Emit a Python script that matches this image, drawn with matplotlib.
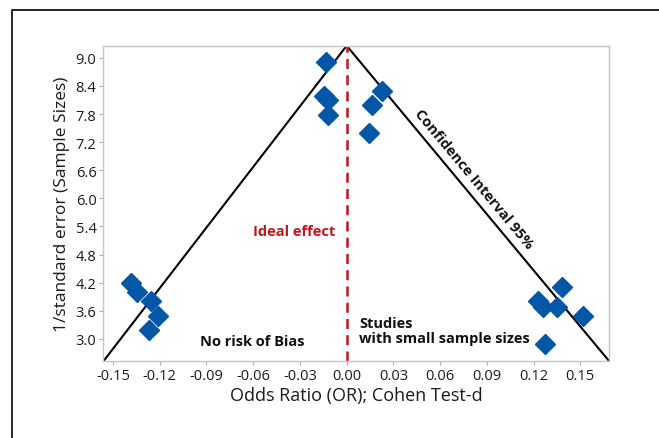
import numpy as np
import matplotlib
matplotlib.use("Agg")
import matplotlib.pyplot as plt
from matplotlib.patches import Rectangle

plt.rcParams['font.family'] = ['Open Sans', 'DejaVu Sans']
plt.rcParams['axes.unicode_minus'] = False

# studies: effect size vs precision
odds_ratio = [-0.0133, -0.0144, -0.0118, -0.0122, 0.0160, 0.0145, 0.0225,
              -0.1386, -0.1348, -0.1258, -0.1210, -0.1269,
              0.1380, 0.1230, 0.1260, 0.1348, 0.1515, 0.1270]
inv_se = [8.91, 8.19, 8.09, 7.79, 8.00, 7.40, 8.30,
          4.20, 4.00, 3.80, 3.49, 3.19,
          4.10, 3.80, 3.69, 3.69, 3.49, 2.89]

xmin, xmax = -0.1562, 0.1686
ymin, ymax = 2.52, 9.26
xticks = np.round(np.arange(-0.15, 0.151, 0.03), 2)
yticks = np.round(np.arange(3.0, 9.01, 0.6), 1)

fig = plt.figure(figsize=(6.59, 4.39), dpi=100)
# frame around the whole picture (runs off right and bottom)
fig.patches.append(Rectangle((11.5 / 659, -0.1), 1.2, 1 - 10.5 / 439 + 0.1,
                             transform=fig.transFigure, fill=False,
                             edgecolor='black', linewidth=1.2))

ax = fig.add_axes([0.1568, 0.1747, 0.9246 - 0.1568, 0.8936 - 0.1747])

# funnel (95% CI) lines
ax.plot([xmin, 0, xmax], [ymin, ymax, ymin], color='black', lw=1.5,
        solid_capstyle='butt', zorder=2)
# ideal effect line
ax.plot([0, 0], [ymin, ymax], color='#c0171c', lw=1.8, ls=(0, (4, 2.5)), zorder=2)

ax.plot(odds_ratio, inv_se, ls='none', marker='D', ms=10.5,
        color='#0456a6', mec='#0456a6', zorder=3)

ax.set_xlim(xmin, xmax)
ax.set_ylim(ymin, ymax)
ax.set_xticks(xticks)
ax.set_xticklabels([f"{v:.2f}" for v in xticks])
ax.set_yticks(yticks)
ax.set_yticklabels([f"{v:.1f}" for v in yticks])
ax.tick_params(axis='both', length=3, width=0.8, color='#b0b0b0',
               labelsize=10.5, labelcolor='#1a1a1a', pad=2)
for s in ax.spines.values():
    s.set_color('#c4c4c4')
    s.set_linewidth(1.0)

ax.set_xlabel("Odds Ratio (OR); Cohen Test-d", fontsize=13, color='#1a1a1a', labelpad=2)
ax.set_ylabel("1/standard error (Sample Sizes)", fontsize=12.5, color='#1a1a1a', labelpad=4)

ax.text(-0.0075, 5.31, "Ideal effect", color='#c0171c', fontsize=10.5,
        fontweight='bold', ha='right', va='center')
ax.text(-0.0608, 2.96, "No risk of Bias", color='#111111', fontsize=10.5,
        fontweight='bold', ha='center', va='center')
ax.text(0.0081, 3.17, "Studies\nwith small sample sizes", color='#111111',
        fontsize=10.5, fontweight='bold', ha='left', va='center', linespacing=1.1)
ax.text(0.0815, 6.42, "Confidence Interval 95%", color='#111111', fontsize=10.5,
        fontweight='bold', ha='center', va='center', rotation=-50.2,
        rotation_mode='anchor')

fig.savefig("out.png", dpi=100)
